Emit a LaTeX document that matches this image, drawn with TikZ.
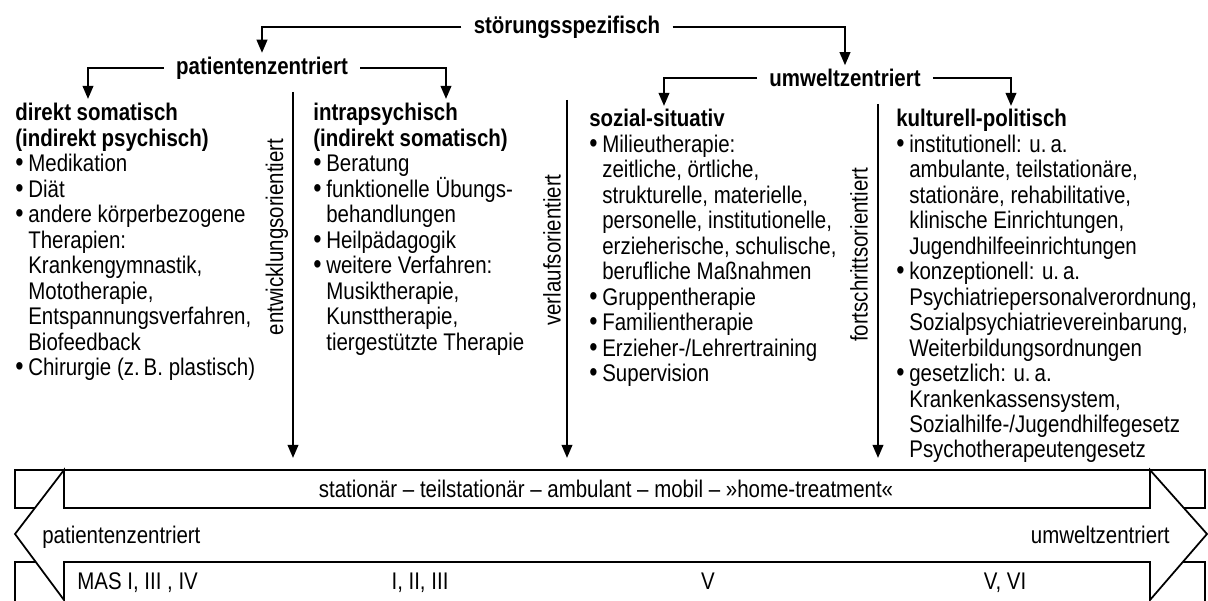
\documentclass[tikz,border=0pt]{standalone}
\usepackage{fontspec}
\setmainfont[FakeStretch=0.85]{Liberation Sans}
\usetikzlibrary{arrows.meta}
\newcommand{\bul}{\makebox[0.26cm][l]{\scalebox{1.15}{•}}}
\newcommand{\ind}{\hspace*{0.26cm}}

\begin{document}
\begin{tikzpicture}[x=0.02cm,y=-0.02cm,
    every node/.style={font=\fontsize{13.7}{14.5}\selectfont, inner sep=0pt},
    head/.style={font=\fontsize{13.7}{14.5}\selectfont\bfseries, inner xsep=0.24cm, inner ysep=2pt},
    col/.style={anchor=north west, align=left},
    side/.style={rotate=90},
    conn/.style={line width=1.3pt, -{Triangle[length=7.5pt,width=6pt]}},
    bar/.style={line width=1pt}]
    \useasboundingbox (0,0) rectangle (1208,601);

    \node[head] (stoer) at (567,27) {störungsspezifisch};
    \node[head] (pat) at (262,68) {patientenzentriert};
    \node[head] (umw) at (845,78) {umweltzentriert};

    \coordinate (dsin) at (88,99);
    \coordinate (ipin) at (446,99);
    \coordinate (ssin) at (664,106);
    \coordinate (kpin) at (1011,106);

    \draw[conn] (stoer.west) -| (pat.north);
    \draw[conn] (stoer.east) -| (umw.north);
    \draw[conn] (pat.west) -| (dsin);
    \draw[conn] (pat.east) -| (ipin);
    \draw[conn] (umw.west) -| (ssin);
    \draw[conn] (umw.east) -| (kpin);

    \node[col] (ds) at (15,103) {\textbf{direkt somatisch}\\
        \textbf{(indirekt psychisch)}\\
        \bul Medikation\\
        \bul Diät\\
        \bul andere körperbezogene\\
        \ind Therapien:\\
        \ind Krankengymnastik,\\
        \ind Mototherapie,\\
        \ind Entspannungsverfahren,\\
        \ind Biofeedback\\
        \bul Chirurgie (z.\,B. plastisch)};
    \node[col] (ip) at (313,103) {\textbf{intrapsychisch}\\
        \textbf{(indirekt somatisch)}\\
        \bul Beratung\\
        \bul funktionelle Übungs-\\
        \ind behandlungen\\
        \bul Heilpädagogik\\
        \bul weitere Verfahren:\\
        \ind Musiktherapie,\\
        \ind Kunsttherapie,\\
        \ind tiergestützte Therapie};
    \node[col] (ss) at (589,109) {\textbf{sozial-situativ}\\
        \bul Milieutherapie:\\
        \ind zeitliche, örtliche,\\
        \ind strukturelle, materielle,\\
        \ind personelle, institutionelle,\\
        \ind erzieherische, schulische,\\
        \ind berufliche Maßnahmen\\
        \bul Gruppentherapie\\
        \bul Familientherapie\\
        \bul Erzieher-/Lehrertraining\\
        \bul Supervision};
    \node[col] (kp) at (896,109) {\textbf{kulturell-politisch}\\
        \bul institutionell: u.\,a.\\
        \ind ambulante, teilstationäre,\\
        \ind stationäre, rehabilitative,\\
        \ind klinische Einrichtungen,\\
        \ind Jugendhilfeeinrichtungen\\
        \bul konzeptionell: u.\,a.\\
        \ind Psychiatriepersonalverordnung,\\
        \ind Sozialpsychiatrievereinbarung,\\
        \ind Weiterbildungsordnungen\\
        \bul gesetzlich: u.\,a.\\
        \ind Krankenkassensystem,\\
        \ind Sozialhilfe-/Jugendhilfegesetz\\
        \ind Psychotherapeutengesetz};

    \coordinate (ent1) at (293,92);
    \coordinate (ent2) at (293,458);
    \coordinate (verl1) at (567,100);
    \coordinate (verl2) at (567,458);
    \coordinate (fort1) at (878,104);
    \coordinate (fort2) at (878,458);
    \draw[conn] (ent1) -- (ent2);
    \draw[conn] (verl1) -- (verl2);
    \draw[conn] (fort1) -- (fort2);
    \node[side] (entl) at (277,237) {entwicklungsorientiert};
    \node[side] (verll) at (552,250) {verlaufsorientiert};
    \node[side] (fortl) at (859,255) {fortschrittsorientiert};

    \draw[bar] (15,470) rectangle (1205,508);
    \draw[bar] (15,601) -- (15,562) -- (1205,562) -- (1205,601);
    \filldraw[bar, fill=white] (15,534) -- (64,470) -- (64,508) -- (1150,508) -- (1150,470) -- (1207,534)
        -- (1150,600) -- (1150,562) -- (64,562) -- (64,600) -- cycle;

    \node[anchor=base] (setting) at (606,498) {stationär – teilstationär – ambulant – mobil – »home-treatment«};
    \node[anchor=base west] (lpat) at (42,543) {patientenzentriert};
    \node[anchor=base east] (rumw) at (1170,543) {umweltzentriert};
    \node[anchor=base west] (mas) at (77,589) {MAS I, III , IV};
    \node[anchor=base] (ax2) at (420,589) {I, II, III};
    \node[anchor=base] (ax3) at (708,589) {V};
    \node[anchor=base] (ax4) at (1005,589) {V, VI};
\end{tikzpicture}
\end{document}
